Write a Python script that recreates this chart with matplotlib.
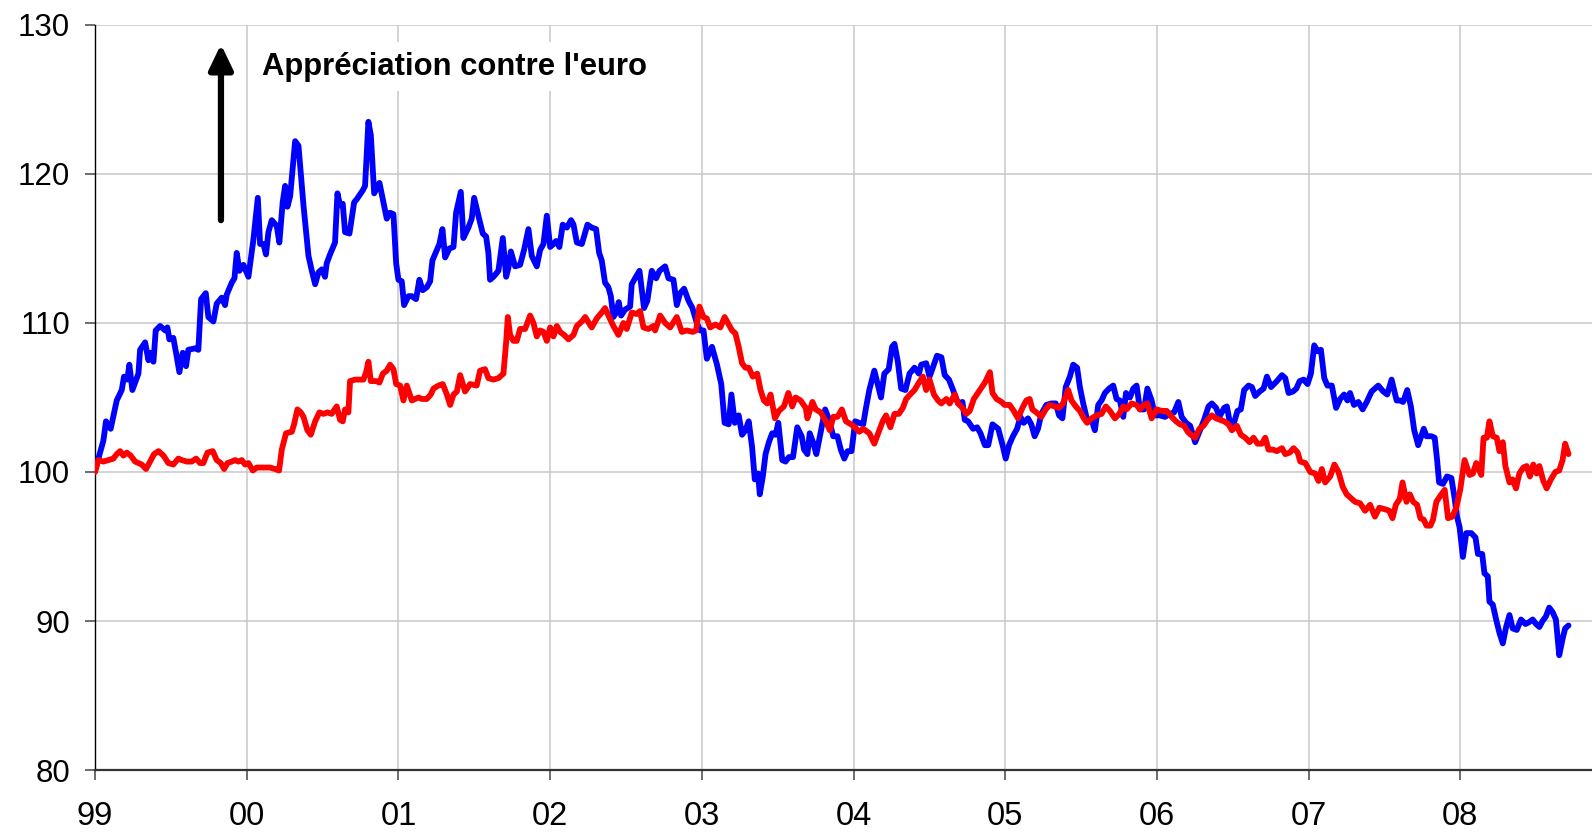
import matplotlib
matplotlib.use('Agg')
import matplotlib.pyplot as plt

plt.rcParams['font.family'] = ['Liberation Sans', 'DejaVu Sans']

# weekly index, base 100 = January 1999 (dates as decimal years)
blue_t = [
    1999.000, 1999.055, 1999.072, 1999.103, 1999.143, 1999.176, 1999.191, 1999.213, 1999.226, 1999.246,
    1999.286, 1999.297, 1999.330, 1999.352, 1999.363, 1999.385, 1999.400, 1999.429, 1999.462, 1999.477,
    1999.490, 1999.516, 1999.534, 1999.556, 1999.578, 1999.600, 1999.615, 1999.659, 1999.681, 1999.699,
    1999.730, 1999.747, 1999.780, 1999.802, 1999.835, 1999.857, 1999.868, 1999.901, 1999.919, 1999.934,
    1999.952, 1999.978, 2000.011, 2000.044, 2000.073, 2000.088, 2000.110, 2000.127, 2000.143, 2000.165,
    2000.198, 2000.215, 2000.237, 2000.253, 2000.268, 2000.286, 2000.319, 2000.341, 2000.374, 2000.407,
    2000.429, 2000.451, 2000.473, 2000.495, 2000.516, 2000.527, 2000.549, 2000.582, 2000.598, 2000.615,
    2000.633, 2000.648, 2000.677, 2000.708, 2000.725, 2000.765, 2000.780, 2000.802, 2000.818, 2000.840,
    2000.875, 2000.901, 2000.923, 2000.945, 2000.967, 2000.985, 2001.000, 2001.022, 2001.037, 2001.066,
    2001.088, 2001.116, 2001.138, 2001.160, 2001.187, 2001.209, 2001.224, 2001.253, 2001.270, 2001.290,
    2001.308, 2001.336, 2001.363, 2001.380, 2001.411, 2001.428, 2001.461, 2001.483, 2001.499, 2001.527,
    2001.556, 2001.578, 2001.593, 2001.604, 2001.626, 2001.659, 2001.688, 2001.710, 2001.725, 2001.741,
    2001.769, 2001.802, 2001.828, 2001.857, 2001.879, 2001.912, 2001.934, 2001.956, 2001.978, 2002.000,
    2002.022, 2002.039, 2002.061, 2002.083, 2002.110, 2002.138, 2002.154, 2002.176, 2002.209, 2002.246,
    2002.274, 2002.303, 2002.323, 2002.340, 2002.362, 2002.384, 2002.400, 2002.417, 2002.435, 2002.452,
    2002.468, 2002.494, 2002.527, 2002.538, 2002.560, 2002.589, 2002.619, 2002.641, 2002.670, 2002.699,
    2002.721, 2002.758, 2002.780, 2002.813, 2002.835, 2002.857, 2002.883, 2002.912, 2002.938, 2002.967,
    2002.989, 2003.011, 2003.033, 2003.067, 2003.100, 2003.128, 2003.150, 2003.177, 2003.195, 2003.217,
    2003.243, 2003.265, 2003.287, 2003.309, 2003.331, 2003.349, 2003.371, 2003.382, 2003.402, 2003.420,
    2003.442, 2003.464, 2003.486, 2003.504, 2003.530, 2003.552, 2003.574, 2003.601, 2003.629, 2003.658,
    2003.674, 2003.696, 2003.711, 2003.733, 2003.755, 2003.784, 2003.813, 2003.839, 2003.866, 2003.894,
    2003.916, 2003.939, 2003.961, 2003.987, 2004.011, 2004.038, 2004.064, 2004.082, 2004.104, 2004.137,
    2004.159, 2004.181, 2004.203, 2004.232, 2004.254, 2004.270, 2004.292, 2004.314, 2004.342, 2004.369,
    2004.402, 2004.431, 2004.446, 2004.479, 2004.501, 2004.519, 2004.550, 2004.579, 2004.601, 2004.629,
    2004.656, 2004.689, 2004.718, 2004.733, 2004.755, 2004.788, 2004.815, 2004.837, 2004.866, 2004.888,
    2004.916, 2004.954, 2004.985, 2005.003, 2005.025, 2005.051, 2005.078, 2005.100, 2005.122, 2005.150,
    2005.172, 2005.194, 2005.216, 2005.238, 2005.271, 2005.304, 2005.333, 2005.355, 2005.377, 2005.399,
    2005.426, 2005.448, 2005.474, 2005.492, 2005.514, 2005.540, 2005.569, 2005.591, 2005.613, 2005.635,
    2005.657, 2005.685, 2005.712, 2005.734, 2005.756, 2005.778, 2005.796, 2005.822, 2005.844, 2005.866,
    2005.888, 2005.915, 2005.937, 2005.965, 2005.987, 2006.020, 2006.053, 2006.086, 2006.113, 2006.141,
    2006.163, 2006.192, 2006.219, 2006.252, 2006.280, 2006.311, 2006.340, 2006.362, 2006.390, 2006.412,
    2006.443, 2006.461, 2006.483, 2006.505, 2006.531, 2006.553, 2006.575, 2006.604, 2006.626, 2006.648,
    2006.677, 2006.703, 2006.725, 2006.752, 2006.791, 2006.824, 2006.846, 2006.868, 2006.897, 2006.919,
    2006.941, 2006.967, 2006.993, 2007.015, 2007.037, 2007.059, 2007.081, 2007.103, 2007.124, 2007.153,
    2007.181, 2007.208, 2007.234, 2007.256, 2007.273, 2007.299, 2007.328, 2007.356, 2007.383, 2007.415,
    2007.459, 2007.492, 2007.518, 2007.547, 2007.580, 2007.601, 2007.623, 2007.650, 2007.674, 2007.696,
    2007.722, 2007.759, 2007.777, 2007.809, 2007.831, 2007.847, 2007.860, 2007.886, 2007.912, 2007.941,
    2007.963, 2007.978, 2007.995, 2008.017, 2008.039, 2008.072, 2008.100, 2008.116, 2008.144, 2008.159,
    2008.181, 2008.192, 2008.214, 2008.236, 2008.258, 2008.280, 2008.302, 2008.324, 2008.345, 2008.372,
    2008.400, 2008.429, 2008.450, 2008.477, 2008.499, 2008.521, 2008.542, 2008.564, 2008.586, 2008.608,
    2008.630, 2008.652, 2008.674, 2008.691, 2008.713,
]
blue_v = [
    100.1, 102.1, 103.4, 102.9, 104.8, 105.5, 106.4, 106.2, 107.2, 105.5,
    106.6, 108.2, 108.7, 107.5, 108.0, 107.4, 109.5, 109.8, 109.5, 109.7,
    108.9, 109.0, 108.0, 106.7, 108.0, 107.1, 108.2, 108.3, 108.2, 111.6,
    112.0, 110.4, 110.1, 111.3, 111.7, 111.2, 111.9, 112.7, 113.0, 114.7,
    113.5, 113.9, 113.1, 115.6, 118.4, 115.3, 115.3, 114.6, 116.1, 116.9,
    116.5, 115.4, 118.1, 119.2, 117.8, 118.5, 122.2, 121.9, 117.9, 114.5,
    113.5, 112.6, 113.4, 113.6, 113.1, 114.0, 114.6, 115.4, 118.7, 117.9,
    118.0, 116.1, 116.0, 118.1, 118.3, 118.9, 119.2, 123.5, 122.6, 118.7,
    119.4, 118.1, 117.0, 117.4, 117.3, 114.0, 112.9, 112.8, 111.2, 111.8,
    111.8, 111.6, 112.9, 112.2, 112.4, 112.8, 114.2, 114.9, 115.3, 116.3,
    114.4, 115.0, 115.1, 117.4, 118.8, 115.7, 116.4, 117.0, 118.4, 117.2,
    116.0, 115.8, 114.7, 112.9, 113.1, 113.5, 115.7, 113.1, 113.7, 114.8,
    113.8, 113.9, 114.9, 116.3, 114.5, 113.8, 114.9, 115.3, 117.2, 115.1,
    115.3, 115.5, 115.1, 116.6, 116.4, 116.9, 116.6, 115.4, 115.3, 116.6,
    116.4, 116.3, 114.7, 114.2, 112.7, 112.4, 111.8, 110.4, 110.7, 111.4,
    110.5, 110.9, 111.1, 112.6, 113.0, 113.5, 111.0, 111.5, 113.5, 113.0,
    113.5, 113.8, 113.0, 112.9, 111.2, 112.0, 112.3, 111.5, 111.0, 110.0,
    109.5, 109.5, 107.6, 108.4, 107.2, 105.9, 103.3, 103.2, 105.2, 103.3,
    103.8, 102.5, 102.8, 103.4, 101.7, 99.5, 99.9, 98.5, 99.7, 101.2,
    102.0, 102.6, 102.5, 103.3, 100.8, 100.7, 101.0, 101.0, 103.0, 102.4,
    101.5, 101.2, 102.6, 102.0, 101.2, 102.7, 104.2, 103.5, 102.4, 102.4,
    101.5, 100.9, 101.4, 101.4, 103.4, 103.3, 103.2, 104.3, 105.5, 106.8,
    105.9, 105.0, 106.6, 106.9, 108.4, 108.6, 107.4, 105.6, 105.5, 106.6,
    107.0, 106.6, 107.2, 107.3, 106.4, 106.9, 107.8, 107.7, 106.5, 106.2,
    105.5, 104.6, 104.7, 103.5, 103.4, 102.9, 103.0, 102.6, 101.8, 101.8,
    103.2, 102.9, 101.7, 100.9, 101.8, 102.4, 102.9, 103.7, 103.3, 103.6,
    103.2, 102.4, 102.9, 103.9, 104.5, 104.6, 104.6, 103.8, 103.6, 105.7,
    106.4, 107.2, 107.0, 105.7, 104.6, 103.5, 103.5, 102.8, 104.5, 104.8,
    105.3, 105.6, 105.8, 104.9, 104.8, 103.7, 105.3, 105.0, 105.6, 105.8,
    104.2, 104.2, 105.6, 104.8, 103.8, 103.8, 103.7, 103.9, 104.0, 104.7,
    103.7, 103.3, 103.1, 102.0, 102.7, 103.5, 104.4, 104.6, 104.3, 103.7,
    104.3, 104.4, 103.2, 103.2, 104.1, 104.2, 105.5, 105.8, 105.7, 105.1,
    105.4, 105.6, 106.4, 105.7, 106.1, 106.5, 106.3, 105.3, 105.4, 105.6,
    106.1, 106.2, 105.9, 106.6, 108.5, 108.1, 108.2, 106.3, 105.8, 105.8,
    104.3, 104.9, 105.2, 104.8, 105.3, 104.5, 104.7, 104.2, 104.7, 105.4,
    105.8, 105.4, 105.2, 106.2, 104.8, 104.8, 104.7, 105.5, 104.4, 102.8,
    101.8, 102.9, 102.4, 102.4, 102.3, 100.8, 99.3, 99.2, 99.7, 99.6,
    98.2, 97.0, 96.3, 94.3, 95.9, 95.9, 95.6, 94.5, 94.5, 93.2,
    93.0, 91.3, 91.1, 90.1, 89.2, 88.5, 89.6, 90.4, 89.5, 89.4,
    90.1, 89.8, 89.9, 90.1, 89.8, 89.6, 90.0, 90.3, 90.9, 90.6,
    90.1, 87.7, 88.8, 89.5, 89.7,
]

red_t = [
    1999.000, 1999.022, 1999.055, 1999.088, 1999.121, 1999.143, 1999.165, 1999.187, 1999.209, 1999.235,
    1999.264, 1999.286, 1999.308, 1999.336, 1999.363, 1999.389, 1999.418, 1999.451, 1999.483, 1999.516,
    1999.549, 1999.571, 1999.604, 1999.637, 1999.666, 1999.692, 1999.714, 1999.741, 1999.776, 1999.802,
    1999.829, 1999.851, 1999.873, 1999.901, 1999.923, 1999.945, 1999.967, 1999.989, 2000.011, 2000.040,
    2000.066, 2000.110, 2000.154, 2000.187, 2000.213, 2000.231, 2000.259, 2000.297, 2000.312, 2000.334,
    2000.356, 2000.374, 2000.400, 2000.422, 2000.451, 2000.479, 2000.505, 2000.532, 2000.560, 2000.593,
    2000.615, 2000.633, 2000.648, 2000.670, 2000.681, 2000.714, 2000.747, 2000.769, 2000.787, 2000.802,
    2000.818, 2000.853, 2000.875, 2000.897, 2000.923, 2000.945, 2000.967, 2000.985, 2001.011, 2001.033,
    2001.055, 2001.088, 2001.132, 2001.154, 2001.187, 2001.213, 2001.231, 2001.264, 2001.292, 2001.319,
    2001.341, 2001.363, 2001.385, 2001.407, 2001.439, 2001.472, 2001.516, 2001.538, 2001.571, 2001.593,
    2001.626, 2001.659, 2001.692, 2001.710, 2001.721, 2001.736, 2001.758, 2001.780, 2001.802, 2001.835,
    2001.868, 2001.890, 2001.912, 2001.934, 2001.956, 2001.978, 2002.000, 2002.022, 2002.044, 2002.066,
    2002.092, 2002.121, 2002.154, 2002.176, 2002.209, 2002.231, 2002.274, 2002.307, 2002.340, 2002.362,
    2002.384, 2002.417, 2002.450, 2002.483, 2002.505, 2002.538, 2002.571, 2002.593, 2002.615, 2002.648,
    2002.681, 2002.692, 2002.725, 2002.758, 2002.791, 2002.835, 2002.868, 2002.901, 2002.940, 2002.962,
    2002.984, 2003.011, 2003.033, 2003.055, 2003.089, 2003.122, 2003.150, 2003.177, 2003.199, 2003.221,
    2003.243, 2003.265, 2003.287, 2003.309, 2003.336, 2003.365, 2003.387, 2003.409, 2003.431, 2003.453,
    2003.482, 2003.508, 2003.541, 2003.570, 2003.596, 2003.618, 2003.651, 2003.685, 2003.696, 2003.729,
    2003.751, 2003.784, 2003.817, 2003.844, 2003.866, 2003.894, 2003.923, 2003.950, 2003.983, 2004.009,
    2004.038, 2004.064, 2004.104, 2004.137, 2004.166, 2004.192, 2004.214, 2004.243, 2004.270, 2004.298,
    2004.325, 2004.347, 2004.373, 2004.402, 2004.431, 2004.457, 2004.479, 2004.501, 2004.530, 2004.557,
    2004.579, 2004.612, 2004.634, 2004.667, 2004.689, 2004.718, 2004.744, 2004.766, 2004.793, 2004.833,
    2004.866, 2004.899, 2004.916, 2004.943, 2004.976, 2004.996, 2005.029, 2005.056, 2005.084, 2005.113,
    2005.139, 2005.161, 2005.179, 2005.205, 2005.238, 2005.267, 2005.293, 2005.326, 2005.355, 2005.381,
    2005.415, 2005.437, 2005.465, 2005.492, 2005.518, 2005.540, 2005.569, 2005.602, 2005.635, 2005.663,
    2005.690, 2005.723, 2005.752, 2005.778, 2005.800, 2005.833, 2005.866, 2005.888, 2005.915, 2005.937,
    2005.965, 2005.998, 2006.031, 2006.064, 2006.097, 2006.126, 2006.152, 2006.179, 2006.203, 2006.223,
    2006.252, 2006.280, 2006.307, 2006.333, 2006.362, 2006.390, 2006.417, 2006.443, 2006.472, 2006.494,
    2006.527, 2006.553, 2006.582, 2006.611, 2006.637, 2006.663, 2006.692, 2006.714, 2006.736, 2006.765,
    2006.791, 2006.824, 2006.846, 2006.875, 2006.901, 2006.928, 2006.945, 2006.978, 2007.011, 2007.043,
    2007.065, 2007.087, 2007.109, 2007.142, 2007.170, 2007.197, 2007.225, 2007.251, 2007.273, 2007.306,
    2007.339, 2007.372, 2007.405, 2007.437, 2007.466, 2007.503, 2007.531, 2007.553, 2007.575, 2007.601,
    2007.619, 2007.645, 2007.667, 2007.689, 2007.715, 2007.737, 2007.759, 2007.777, 2007.803, 2007.820,
    2007.842, 2007.868, 2007.897, 2007.919, 2007.947, 2007.973, 2007.999, 2008.028, 2008.061, 2008.083,
    2008.105, 2008.138, 2008.153, 2008.175, 2008.192, 2008.214, 2008.240, 2008.258, 2008.280, 2008.297,
    2008.324, 2008.345, 2008.367, 2008.389, 2008.415, 2008.437, 2008.459, 2008.481, 2008.503, 2008.521,
    2008.547, 2008.569, 2008.597, 2008.626, 2008.652, 2008.674, 2008.691, 2008.713,
]
red_v = [
    100.0, 100.8, 100.7, 100.8, 100.9, 101.2, 101.4, 101.1, 101.3, 101.1,
    100.7, 100.6, 100.5, 100.2, 100.7, 101.2, 101.4, 101.1, 100.6, 100.5,
    100.9, 100.8, 100.7, 100.7, 100.9, 100.6, 100.6, 101.3, 101.4, 100.8,
    100.6, 100.2, 100.6, 100.7, 100.8, 100.7, 100.8, 100.5, 100.6, 100.1,
    100.3, 100.3, 100.3, 100.2, 100.1, 101.5, 102.6, 102.7, 103.2, 104.2,
    104.0, 103.7, 102.8, 102.5, 103.4, 104.0, 103.9, 104.0, 103.9, 104.4,
    103.5, 103.4, 104.2, 104.0, 106.1, 106.2, 106.2, 106.2, 106.7, 107.4,
    106.1, 106.1, 106.0, 106.6, 106.8, 107.2, 106.9, 105.9, 105.8, 104.8,
    105.8, 104.8, 105.0, 104.9, 104.9, 105.2, 105.6, 105.8, 105.9, 105.2,
    104.5, 105.2, 105.4, 106.5, 105.4, 105.9, 105.8, 106.8, 106.9, 106.3,
    106.2, 106.3, 106.6, 108.7, 110.4, 109.2, 108.8, 108.8, 109.6, 109.6,
    110.5, 110.0, 109.1, 109.5, 109.4, 108.8, 109.7, 109.1, 109.8, 109.4,
    109.2, 108.9, 109.2, 109.8, 110.1, 110.4, 109.7, 110.3, 110.7, 111.0,
    110.5, 109.8, 109.2, 110.0, 109.6, 110.7, 110.6, 110.8, 109.7, 109.6,
    109.8, 109.5, 110.5, 110.0, 109.7, 110.4, 109.4, 109.5, 109.4, 109.5,
    111.1, 110.4, 110.3, 109.7, 109.9, 109.7, 110.4, 109.9, 109.5, 109.3,
    108.4, 107.3, 107.0, 107.0, 106.4, 106.6, 105.5, 104.8, 104.6, 105.2,
    103.6, 104.1, 104.4, 105.3, 104.4, 105.0, 104.8, 104.3, 103.6, 104.7,
    104.2, 104.0, 103.4, 102.8, 103.7, 103.7, 104.2, 103.4, 103.2, 103.0,
    102.7, 102.9, 102.6, 101.9, 102.7, 103.4, 103.8, 103.0, 103.9, 103.9,
    104.3, 104.9, 105.2, 105.5, 106.0, 106.4, 105.5, 106.2, 105.2, 104.8,
    104.6, 104.9, 104.6, 105.2, 104.6, 104.3, 103.9, 104.1, 104.9, 105.5,
    106.0, 106.7, 105.3, 104.9, 104.7, 104.5, 104.5, 104.1, 103.6, 104.3,
    104.8, 104.9, 104.2, 104.0, 103.7, 104.2, 104.5, 104.4, 104.3, 104.6,
    105.5, 104.8, 104.4, 104.1, 103.6, 103.3, 103.6, 103.8, 103.9, 104.4,
    104.1, 103.6, 103.9, 104.4, 104.2, 104.6, 104.5, 104.2, 104.5, 104.6,
    103.6, 104.2, 104.1, 104.1, 103.7, 103.4, 103.2, 103.1, 102.7, 102.5,
    102.3, 102.9, 103.1, 103.5, 103.8, 103.6, 103.5, 103.4, 103.2, 102.8,
    103.1, 102.5, 102.3, 102.0, 102.3, 101.9, 101.9, 102.3, 101.5, 101.5,
    101.4, 101.6, 101.2, 101.3, 101.6, 101.3, 100.7, 100.6, 100.0, 99.9,
    99.4, 100.2, 99.3, 99.7, 100.5, 100.0, 99.0, 98.5, 98.3, 98.0,
    97.9, 97.4, 97.8, 97.0, 97.6, 97.5, 97.4, 96.9, 97.8, 98.2,
    99.3, 98.0, 98.5, 98.0, 97.8, 96.9, 96.8, 96.4, 96.4, 96.8,
    98.0, 98.4, 98.8, 96.9, 97.0, 97.6, 98.8, 100.8, 99.8, 99.9,
    100.6, 99.8, 102.3, 102.3, 103.4, 102.4, 102.3, 101.4, 102.0, 100.4,
    99.3, 99.5, 98.9, 99.9, 100.3, 100.4, 99.7, 100.5, 99.9, 100.4,
    99.4, 98.9, 99.5, 100.0, 100.1, 100.8, 101.9, 101.2,
]

years = list(range(1999, 2009))
year_labels = ['99', '00', '01', '02', '03', '04', '05', '06', '07', '08']
y_ticks = [80, 90, 100, 110, 120, 130]

fig = plt.figure(figsize=(15.92, 8.32), dpi=100)
ax = fig.add_axes([0.0597, 0.0745, 0.9403, 0.8955])

ax.plot(blue_t, blue_v, color='#0000ff', lw=4.2, solid_joinstyle='round',
        solid_capstyle='round', zorder=3)
ax.plot(red_t, red_v, color='#ff0000', lw=4.2, solid_joinstyle='round',
        solid_capstyle='round', zorder=4)

ax.set_xlim(1999.0, 2008.868)
ax.set_ylim(80, 130)
ax.set_xticks(years)
ax.set_xticklabels(year_labels)
ax.set_yticks(y_ticks)

ax.grid(True, color='#c8c8c8', lw=1.1, zorder=0)
ax.set_axisbelow(True)

for side in ('top', 'right'):
    ax.spines[side].set_visible(False)
ax.spines['left'].set_color('black')
ax.spines['left'].set_linewidth(1.0)
ax.spines['bottom'].set_color('#333333')
ax.spines['bottom'].set_linewidth(1.6)

ax.tick_params(axis='y', direction='out', length=7, width=1.1, color='#444444',
               labelsize=22.5, pad=11)
ax.tick_params(axis='x', direction='out', length=7, width=1.1, color='#444444',
               labelsize=23.5, pad=15)

# appreciation arrow and label
ax.annotate('', xy=(1999.83, 128.7), xytext=(1999.83, 116.9),
            arrowprops=dict(arrowstyle='-|>,head_length=0.75,head_width=0.36',
                            mutation_scale=20, color='black', lw=4.5,
                            shrinkA=0, shrinkB=0),
            zorder=5)
ax.text(2000.10, 127.2, "Appréciation contre l'euro", fontsize=22.3, fontweight='bold',
        ha='left', va='center', zorder=5,
        bbox=dict(facecolor='white', edgecolor='none', pad=7))

fig.savefig('out.png', dpi=100)
